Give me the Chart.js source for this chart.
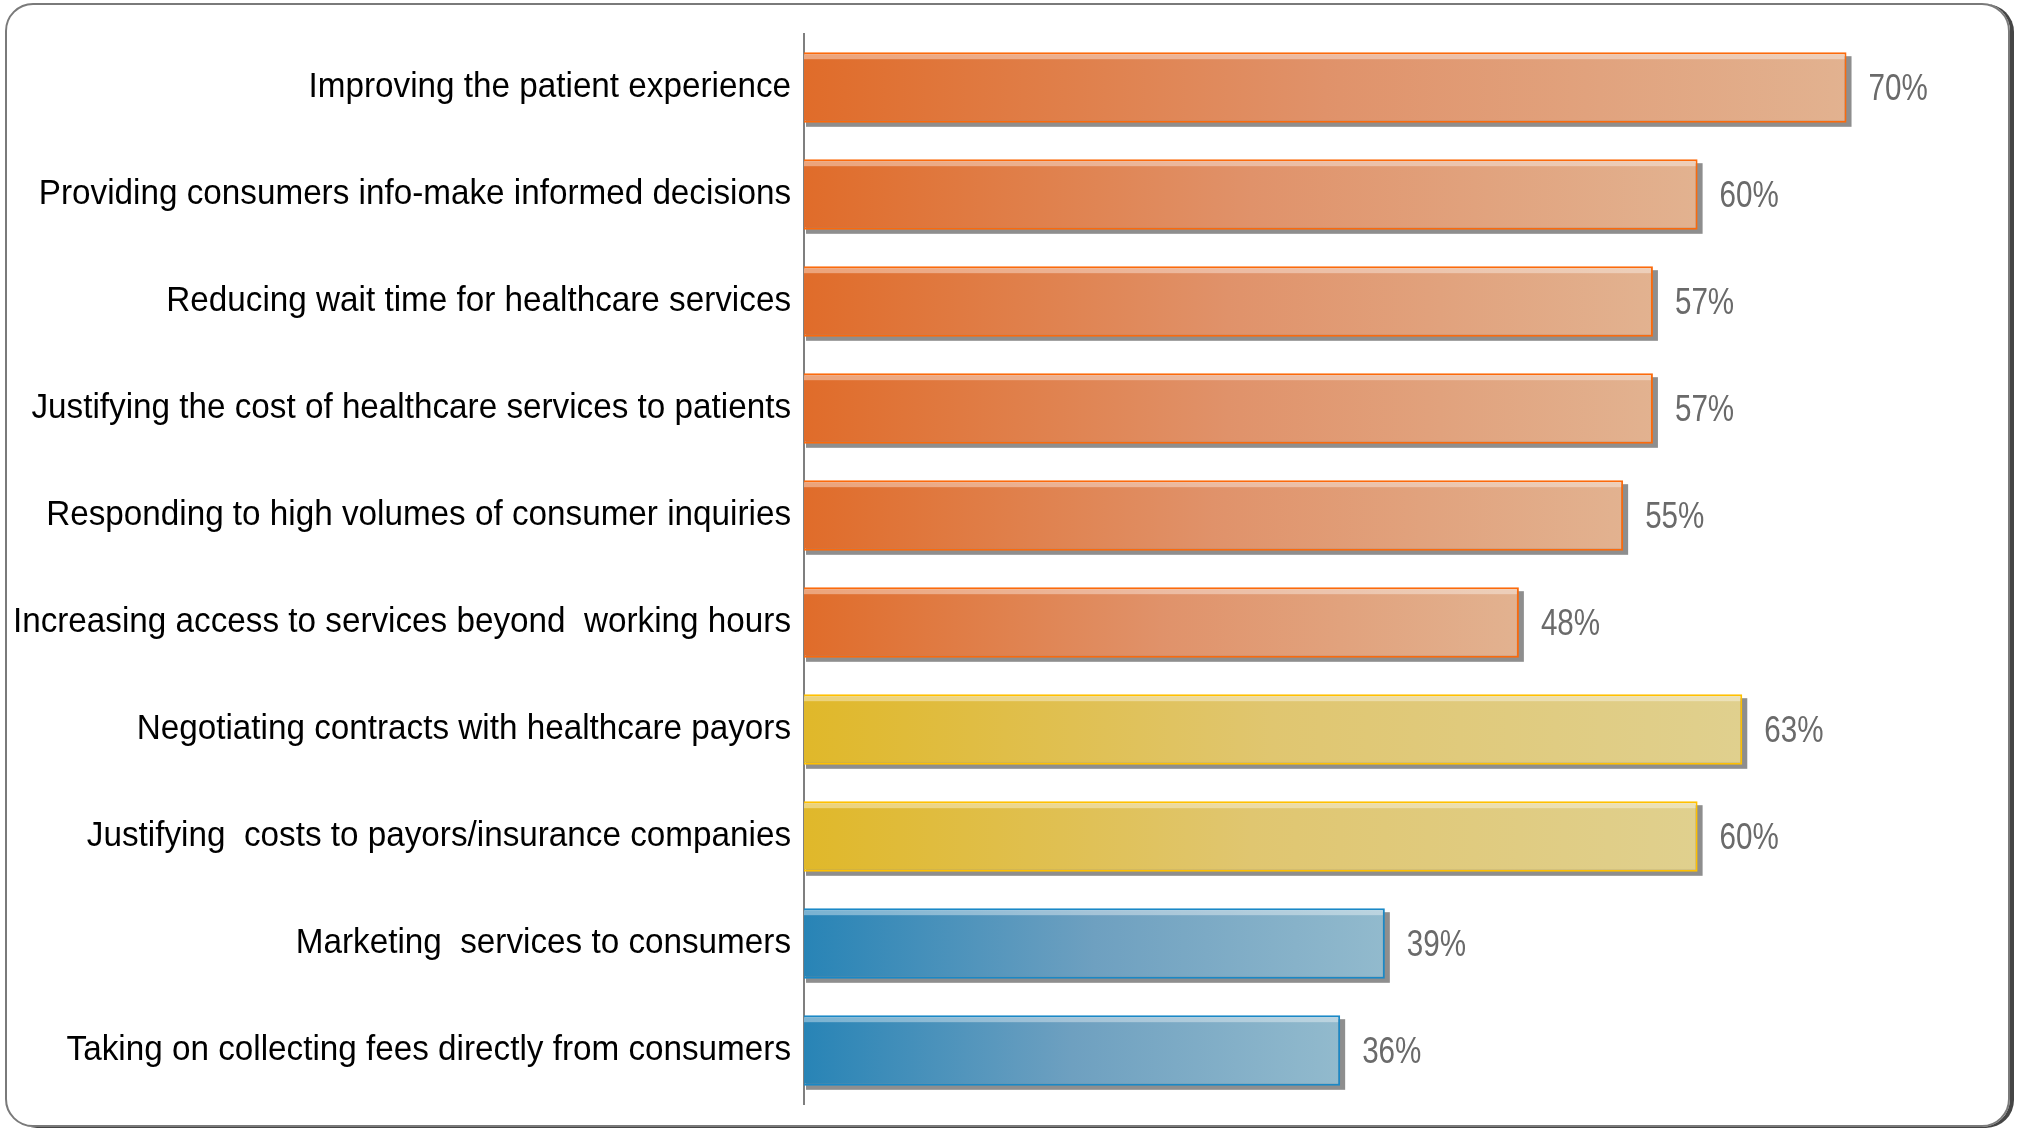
<!DOCTYPE html>
<html lang="en">
<head>
<meta charset="UTF-8">
<title>Healthcare consumer priorities</title>
<style>
html, body { margin: 0; padding: 0; background: #fff; overflow: hidden; }
#frame {
  position: absolute; left: 5px; top: 3px;
  width: 2001px; height: 1120px;
  border: 2px solid #7a7a7a;
  border-radius: 28px;
  box-shadow: 4px 1px 0 #454545;
}
#chart { position: absolute; left: 0; top: 0; }
</style>
</head>
<body>
<div id="frame"></div>
<canvas id="chart" width="2017" height="1128"></canvas>

<script src="https://cdn.jsdelivr.net/npm/chart.js"></script>
<script>
// values
const categories = [
  'Improving the patient experience',
  'Providing consumers info-make informed decisions',
  'Reducing wait time for healthcare services',
  'Justifying the cost of healthcare services to patients',
  'Responding to high volumes of consumer inquiries',
  'Increasing access to services beyond  working hours',
  'Negotiating contracts with healthcare payors',
  'Justifying  costs to payors/insurance companies',
  'Marketing  services to consumers',
  'Taking on collecting fees directly from consumers'
];
const percents = [70, 60, 57, 57, 55, 48, 63, 60, 39, 36];
const groups = ['orange', 'orange', 'orange', 'orange', 'orange', 'orange', 'yellow', 'yellow', 'blue', 'blue'];

// colour sets per group: gradient stops (left -> bar end) and border
const palette = {
  orange: { stops: ['#e06c2a', '#e0926a', '#e2b290'], border: '#fb6a0c' },
  yellow: { stops: ['#e0b82a', '#e0c670', '#e0d08e'], border: '#ffc000' },
  blue:   { stops: ['#2884b6', '#6ea0c0', '#92bacd'], border: '#1a88c6' }
};

function barGradient(context) {
  const chart = context.chart;
  const xs = chart.scales.x;
  if (!chart.chartArea) return palette[groups[context.dataIndex]].stops[0];
  const x0 = xs.getPixelForValue(0);
  const x1 = xs.getPixelForValue(percents[context.dataIndex]);
  const g = chart.ctx.createLinearGradient(x0, 0, x1, 0);
  const stops = palette[groups[context.dataIndex]].stops;
  g.addColorStop(0, stops[0]);
  g.addColorStop(0.5, stops[1]);
  g.addColorStop(1, stops[2]);
  return g;
}

// gray drop shadow under each bar, a pale strip along the top, the value labels
// and the (slightly condensed) category labels
const barDecor = {
  id: 'barDecor',
  beforeDatasetsDraw(chart) {
    const ctx = chart.ctx;
    const meta = chart.getDatasetMeta(0);
    ctx.save();
    ctx.fillStyle = '#8e8e8e';
    meta.data.forEach(bar => {
      const p = bar.getProps(['x', 'y', 'base', 'height'], true);
      ctx.fillRect(p.base + 2, p.y - p.height / 2 + 4, p.x - p.base + 3, p.height);
    });
    ctx.restore();
  },
  afterDatasetsDraw(chart) {
    const ctx = chart.ctx;
    const meta = chart.getDatasetMeta(0);
    meta.data.forEach((bar, i) => {
      const p = bar.getProps(['x', 'y', 'base', 'height'], true);
      const top = p.y - p.height / 2;
      ctx.save();
      ctx.fillStyle = 'rgba(255,255,255,0.38)';
      ctx.fillRect(p.base, top + 2, p.x - p.base - 2, 5);
      ctx.translate(p.x + 22, p.y + 2);
      ctx.scale(0.8, 1);
      ctx.fillStyle = '#6a6a6a';
      ctx.font = '37px "Liberation Sans", Arial, sans-serif';
      ctx.textAlign = 'left';
      ctx.textBaseline = 'middle';
      ctx.fillText(percents[i] + '%', 0, 0);
      ctx.restore();
    });

    const ys = chart.scales.y;
    categories.forEach((label, i) => {
      ctx.save();
      ctx.translate(ys.right - 13, ys.getPixelForTick(i));
      ctx.scale(0.95, 1);
      ctx.fillStyle = '#000';
      ctx.font = '35px "Liberation Sans", Arial, sans-serif';
      ctx.textAlign = 'right';
      ctx.textBaseline = 'middle';
      ctx.fillText(label, 0, 0);
      ctx.restore();
    });
  }
};

new Chart(document.getElementById('chart'), {
  type: 'bar',
  data: {
    labels: categories,
    datasets: [{
      data: percents,
      backgroundColor: barGradient,
      borderColor: ctx => palette[groups[ctx.dataIndex]].border,
      borderWidth: 2,
      categoryPercentage: 1,
      barPercentage: 0.66
    }]
  },
  options: {
    indexAxis: 'y',
    responsive: false,
    animation: false,
    layout: { padding: { left: 0, right: 96, top: 34, bottom: 24 } },
    plugins: {
      legend: { display: false },
      tooltip: { enabled: false }
    },
    scales: {
      x: { display: false, min: 0, max: 75 },
      y: {
        afterFit(scale) {
          scale.width = 804;
          scale.paddingTop = 0;
          scale.paddingBottom = 0;
        },
        grid: { display: false, drawTicks: false },
        border: { display: true, color: '#7f7f7f', width: 2 },
        ticks: { display: false, autoSkip: false }
      }
    }
  },
  plugins: [barDecor]
});
</script>
</body>
</html>
